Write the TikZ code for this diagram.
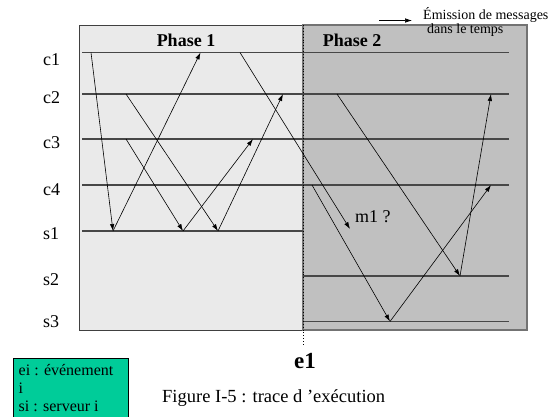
\documentclass[tikz,border=0pt]{standalone}
\usepackage{fontspec}
\setmainfont{Liberation Serif}
\usetikzlibrary{arrows.meta}
\definecolor{phaseone}{HTML}{EAEAEA}
\definecolor{phasetwo}{HTML}{C0C0C0}
\definecolor{legendgreen}{HTML}{00CC99}
\begin{document}
\begin{tikzpicture}[x=1pt,y=-1pt,
  lane/.style={draw=black!72, line width=1.2pt},
  msg/.style={draw=black, line width=0.6pt, -{Latex[length=7pt,width=4.5pt]}},
  lbl/.style={font=\fontsize{18}{20}\selectfont, anchor=base west, inner sep=0pt},
  ttl/.style={font=\fontsize{18}{20}\selectfont\bfseries, anchor=base, inner sep=0pt},
  small/.style={font=\fontsize{14}{16}\selectfont, anchor=base west, inner sep=0pt},
  leg/.style={font=\fontsize{16}{18}\selectfont, anchor=base west, inner sep=0pt}]
\useasboundingbox (0,0) rectangle (557,416);
\fill[white] (0,0) rectangle (557,416);
% phase boxes
\draw[fill=phaseone, draw=black!75, line width=0.9pt] (79,25) rectangle (303,330);
\draw[fill=phasetwo, draw=black!55, line width=1.6pt] (303,25) rectangle (527,330);
% lanes phase 1
\coordinate (p1c1a) at (82,52.5);  \coordinate (p1c1b) at (303,52.5);
\coordinate (p1c2a) at (82,94);    \coordinate (p1c2b) at (303,94);
\coordinate (p1c3a) at (82,139);   \coordinate (p1c3b) at (303,139);
\coordinate (p1c4a) at (82,185);   \coordinate (p1c4b) at (303,185);
\coordinate (p1s1a) at (82,231);   \coordinate (p1s1b) at (303,231);
\foreach \n in {c1,c2,c3,c4,s1} \draw[lane] (p1\n a) -- (p1\n b);
% lanes phase 2
\coordinate (p2c1a) at (303,52.5); \coordinate (p2c1b) at (509,52.5);
\coordinate (p2c2a) at (303,94);   \coordinate (p2c2b) at (509,94);
\coordinate (p2c3a) at (303,139);  \coordinate (p2c3b) at (509,139);
\coordinate (p2c4a) at (303,185);  \coordinate (p2c4b) at (509,185);
\coordinate (p2s2a) at (303,276);  \coordinate (p2s2b) at (509,276);
\coordinate (p2s3a) at (303,321.5);\coordinate (p2s3b) at (509,321.5);
\foreach \n in {c1,c2,c3,c4,s2,s3} \draw[lane] (p2\n a) -- (p2\n b);
% e1 dotted line
\coordinate (e1top) at (303,25);
\coordinate (e1bot) at (303,346);
\draw[black, line width=0.9pt, dotted] (e1top) -- (e1bot);
% lane labels
\node[lbl] (lc1) at (43,65) {c1};
\node[lbl] (lc2) at (43,103) {c2};
\node[lbl] (lc3) at (43,148) {c3};
\node[lbl] (lc4) at (43,195) {c4};
\node[lbl] (ls1) at (43,239) {s1};
\node[lbl] (ls2) at (43,285) {s2};
\node[lbl] (ls3) at (43,327) {s3};
% titles
\node[ttl] (ph1) at (186,46) {Phase 1};
\node[ttl] (ph2) at (352,46) {Phase 2};
% message endpoints
\coordinate (m1s) at (91,52.5);   \coordinate (m1e) at (113,231);
\coordinate (m2e) at (200.5,52.5);
\coordinate (m3s) at (126,94);    \coordinate (m3e) at (218,231);
\coordinate (m4s) at (126,139);   \coordinate (m4e) at (183,231);
\coordinate (m5e) at (253,139);
\coordinate (m6e) at (283,94);
\coordinate (m7s) at (240,52.5);  \coordinate (m7e) at (350,229);
\coordinate (m8s) at (312,185);   \coordinate (m8e) at (390,321.5);
\coordinate (m9e) at (491,185);
\coordinate (m10s) at (337,94);   \coordinate (m10e) at (460,276);
\coordinate (m11e) at (491,94);
\draw[msg] (m1s) -- (m1e);
\draw[msg] (m1e) -- (m2e);
\draw[msg] (m3s) -- (m3e);
\draw[msg] (m4s) -- (m4e);
\draw[msg] (m4e) -- (m5e);
\draw[msg] (m3e) -- (m6e);
\draw[msg] (m7s) -- (m7e);
\draw[msg] (m8s) -- (m8e);
\draw[msg] (m8e) -- (m9e);
\draw[msg] (m10s) -- (m10e);
\draw[msg] (m10e) -- (m11e);
% m1 label
\node[lbl] (m1lbl) at (355,222) {m1 ?};
% top legend arrow
\coordinate (ta) at (379,20.5);
\coordinate (tb) at (412,20.5);
\draw[msg] (ta) -- (tb);
\node[small] (em1) at (423,19.5) {Émission de messages};
\node[small] (em2) at (427,33.5) {dans le temps};
% e1
\node[font=\fontsize{23}{25}\selectfont\bfseries, anchor=base west, inner sep=0pt] (e1) at (294,368) {e1};
% caption
\node[font=\fontsize{18.5}{20}\selectfont, anchor=base west, inner sep=0pt] (cap) at (162,402.5) {Figure I-5 : trace d ’exécution};
% legend box
\draw[fill=legendgreen, draw=black, line width=0.7pt] (13,358) rectangle (128,422);
\node[leg] (lg1) at (18.5,375) {ei : événement};
\node[leg] (lg2) at (18.5,393) {i};
\node[leg] (lg3) at (18.5,411) {si : serveur i};
\end{tikzpicture}
\end{document}
